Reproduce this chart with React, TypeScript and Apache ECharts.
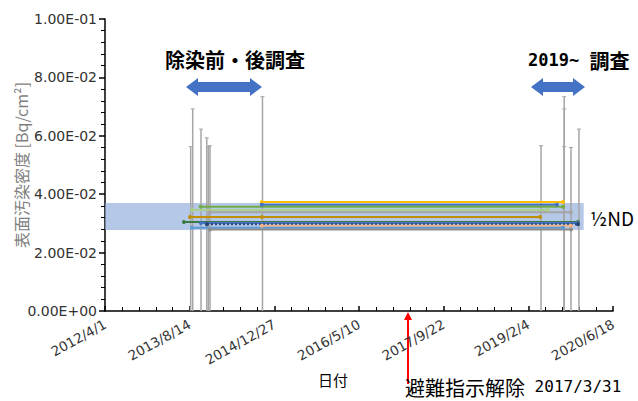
import React, { useEffect, useRef } from "react";
import * as echarts from "echarts";

// ---- data ----
const axisStart = "2012/4/1";
const axisEnd = "2020/6/18";
const yTickValues = [0, 0.02, 0.04, 0.06, 0.08, 0.1];

const seriesNames = ["S1", "S2", "S3", "S4", "S5", "S6", "S7", "S8", "S9", "S10", "S11", "S12"];
const seriesDates = [
  ["2014/10/14", "2019/8/28"],
  ["2014/10/14", "2019/7/23"],
  ["2013/10/18", "2019/8/28"],
  ["2013/8/28", "2019/5/31"],
  ["2013/12/12", "2019/10/14"],
  ["2013/8/16", "2014/10/14", "2019/4/14"],
  ["2013/7/11", "2019/11/24"],
  ["2013/10/19", "2019/11/24"],
  ["2013/11/24", "2019/11/24"],
  ["2014/10/14", "2019/10/14"],
  ["2013/8/28", "2019/8/28"],
  ["2013/12/12", "2019/10/14"],
];
const seriesValues = [
  [0.0373, 0.0373],
  [0.0364, 0.0364],
  [0.0357, 0.0357],
  [0.0346, 0.0346],
  [0.0338, 0.0338],
  [0.0322, 0.0322, 0.0322],
  [0.0305, 0.0305],
  [0.0301, 0.0301],
  [0.0297, 0.0297],
  [0.0292, 0.0292],
  [0.0285, 0.0285],
  [0.0279, 0.0279],
];

const errDates = [
  "2013/8/20", "2013/9/1", "2013/10/20", "2013/11/23", "2013/12/2", "2013/12/12", "2014/10/18",
  "2019/4/20", "2019/9/4", "2019/9/4", "2019/9/4", "2019/10/14", "2019/11/30",
];
const errTops = [
  0.0563, 0.0692, 0.0623, 0.0593, 0.0563, 0.0566, 0.0734,
  0.0566, 0.0734, 0.0692, 0.0563, 0.056, 0.0623,
];

const bandLow = 0.0277;
const bandHigh = 0.037;
const bandEndDate = "2019/12/28";

// ---- styles ----
const seriesColors = [
  "#ffc000", "#4472c4", "#70ad47", "#a9d18e", "#a5a5a5", "#bf9000",
  "#3b7a45", "#4472c4", "#264478", "#f4b183", "#5b9bd5", "#8c8c8c",
];
const seriesDashed = [false, false, false, false, false, false, false, false, true, false, false, false];

const DAY = 86400000;
const origin = (() => {
  const [y, m, d] = axisStart.split("/").map(Number);
  return Date.UTC(y, m - 1, d);
})();
function dayIndex(s: string): number {
  const [y, m, d] = s.split("/").map(Number);
  return Math.round((Date.UTC(y, m - 1, d) - origin) / DAY);
}
function dayLabel(v: number): string {
  const dt = new Date(origin + v * DAY);
  return `${dt.getUTCFullYear()}/${dt.getUTCMonth() + 1}/${dt.getUTCDate()}`;
}
function sci(v: number): string {
  const [m, e] = v.toExponential(2).split("e");
  const ex = parseInt(e, 10);
  return `${m}E${ex < 0 ? "-" : "+"}${String(Math.abs(ex)).padStart(2, "0")}`;
}

const CJK = "'Noto Sans CJK JP', 'DejaVu Sans', sans-serif";
const LAT = "'DejaVu Sans', sans-serif";
const MONO = "'DejaVu Sans Mono', 'Noto Sans CJK JP', monospace";

export default function App() {
  const ref = useRef<HTMLDivElement>(null);
  useEffect(() => {
    document.body.style.margin = "0";
    if (!ref.current) return;
    const chart = echarts.init(ref.current, undefined, { renderer: "svg" });

    const lineSeries = seriesNames.map((name, i) => ({
      name,
      type: "line" as const,
      z: 4,
      data: seriesDates[i].map((d, j) => [dayIndex(d), seriesValues[i][j]]),
      symbol: "circle",
      symbolSize: 4,
      itemStyle: { color: seriesColors[i] },
      lineStyle: { color: seriesColors[i], width: 2, type: seriesDashed[i] ? "dotted" : "solid" },
    }));

    const errSeries = {
      name: "err",
      type: "custom" as const,
      z: 3,
      data: errDates.map((d, i) => [dayIndex(d), errTops[i]]),
      renderItem: (params: any, api: any) => {
        const top = api.coord([api.value(0), api.value(1)]);
        const bot = api.coord([api.value(0), 0]);
        return {
          type: "group",
          children: [
            { type: "line", shape: { x1: top[0], y1: top[1], x2: bot[0], y2: bot[1] }, style: { stroke: "#a6a6a6", lineWidth: 1.5 } },
            { type: "line", shape: { x1: top[0] - 2, y1: top[1], x2: top[0] + 2, y2: top[1] }, style: { stroke: "#a6a6a6", lineWidth: 1 } },
          ],
        };
      },
    };

    const bandSeries = {
      name: "band",
      type: "line" as const,
      z: 1,
      data: [],
      markArea: {
        silent: true,
        itemStyle: { color: "rgba(143,170,220,0.65)" },
        data: [[{ xAxis: 0, yAxis: bandLow }, { xAxis: dayIndex(bandEndDate), yAxis: bandHigh }]],
      },
    };

    const option: any = {
      animation: false,
      grid: { left: 105, right: 25, top: 19, bottom: 90, containLabel: false, outerBoundsMode: "none" },
      xAxis: {
        type: "value",
        min: 0,
        max: dayIndex(axisEnd),
        interval: 500,
        minorTick: { show: true, splitNumber: 5, length: 4, lineStyle: { color: "#000" } },
        axisTick: { inside: true, length: 5, lineStyle: { color: "#000", width: 1.5 } },
        axisLine: { lineStyle: { color: "#000", width: 1.5 } },
        splitLine: { show: false },
        axisLabel: {
          rotate: 29,
          margin: 12,
          color: "#333",
          fontSize: 13.5,
          fontFamily: LAT,
          formatter: (v: number) => dayLabel(v),
        },
      },
      yAxis: {
        type: "value",
        min: yTickValues[0],
        max: yTickValues[yTickValues.length - 1],
        interval: 0.02,
        name: "表面汚染密度 [Bq/cm²]",
        nameLocation: "middle",
        nameRotate: 90,
        nameGap: 76,
        nameMoveOverlap: false,
        nameTextStyle: { color: "#7f7f7f", fontSize: 16, fontFamily: CJK },
        minorTick: { show: true, splitNumber: 5, length: 4, lineStyle: { color: "#000" } },
        axisTick: { length: 6, lineStyle: { color: "#000", width: 1.5 } },
        axisLine: { show: true, lineStyle: { color: "#000", width: 1.5 } },
        splitLine: { show: false },
        axisLabel: {
          color: "#333",
          fontSize: 14,
          margin: 8,
          fontFamily: LAT,
          formatter: (v: number) => sci(v),
        },
      },
      series: [bandSeries, errSeries, ...lineSeries],
    };
    chart.setOption(option);

    chart.setOption({
      graphic: [
        { type: "text", left: 165, top: 49, style: { text: "除染前・後調査", font: `bold 20px ${CJK}`, fill: "#000" } },
        {
          type: "text",
          left: 528,
          top: 50,
          style: {
            text: "{a|2019~ }{b|調査}",
            fill: "#000",
            rich: {
              a: { fontFamily: MONO, fontWeight: "bold", fontSize: 17, fill: "#000" },
              b: { fontFamily: CJK, fontWeight: "bold", fontSize: 20, fill: "#000" },
            },
          },
        },
        {
          type: "polygon",
          shape: { points: [[186, 87], [198, 78], [198, 82], [250, 82], [250, 78], [262, 87], [250, 96], [250, 92], [198, 92], [198, 96]] },
          style: { fill: "#4472c4" },
        },
        {
          type: "polygon",
          shape: { points: [[531, 87], [543, 78], [543, 82], [573, 82], [573, 78], [585, 87], [573, 96], [573, 92], [543, 92], [543, 96]] },
          style: { fill: "#4472c4" },
        },
        { type: "text", left: 590, top: 208, style: { text: "½ND", font: `19px ${CJK}`, fill: "#000" } },
        { type: "text", left: 318, top: 372, style: { text: "日付", font: `15px ${CJK}`, fill: "#000" } },
        { type: "line", shape: { x1: 408, y1: 384, x2: 408, y2: 318 }, style: { stroke: "#ff0000", lineWidth: 2 } },
        { type: "polygon", shape: { points: [[404, 320], [408, 312], [412, 320]] }, style: { fill: "#ff0000" } },
        {
          type: "text",
          left: 405,
          top: 377,
          style: {
            text: "{b|避難指示解除}{a| 2017/3/31}",
            fill: "#000",
            rich: {
              a: { fontFamily: MONO, fontSize: 16, fill: "#000" },
              b: { fontFamily: CJK, fontSize: 20, fill: "#000" },
            },
          },
        },
      ],
    });

    return () => chart.dispose();
  }, []);
  return <div ref={ref} style={{ width: 638, height: 401 }} />;
}
